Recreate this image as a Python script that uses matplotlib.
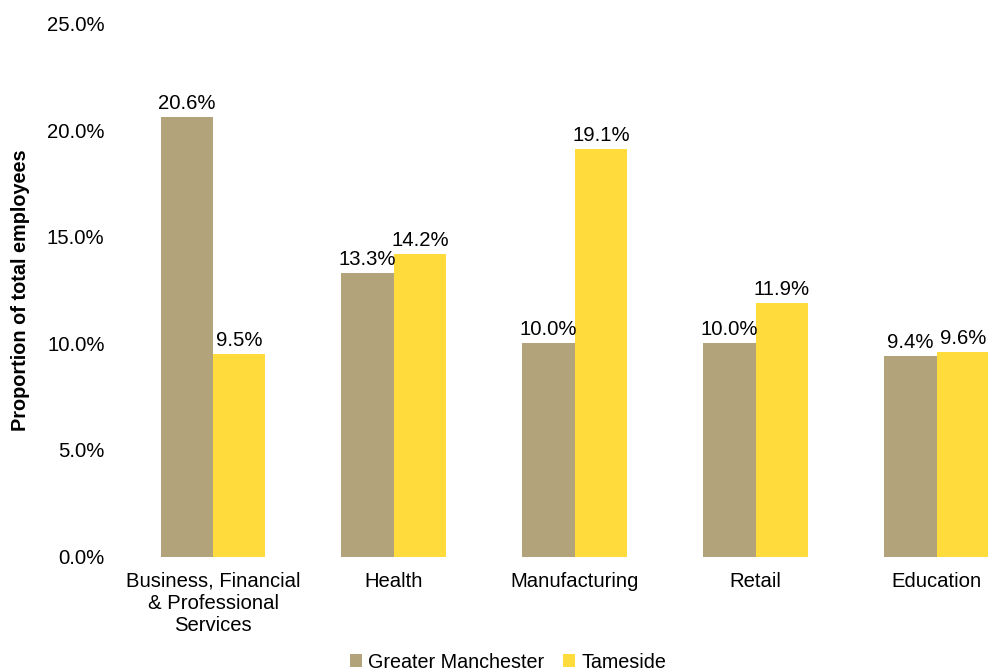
import matplotlib
matplotlib.use("Agg")
import matplotlib.pyplot as plt
import numpy as np

categories = ["Business, Financial\n& Professional\nServices", "Health", "Manufacturing", "Retail", "Education"]
greater_manchester = [20.6, 13.3, 10.0, 10.0, 9.4]
tameside = [9.5, 14.2, 19.1, 11.9, 9.6]
series_names = ["Greater Manchester", "Tameside"]
yticks = [0, 5, 10, 15, 20, 25]

plt.rcParams['font.family'] = ['Liberation Sans', 'DejaVu Sans']

W, H = 988, 670
fig = plt.figure(figsize=(W / 100, H / 100), dpi=100)
left = 122.6 / W
right = 1027.0 / W
bottom = (H - 556.5) / H
top = (H - 23.5) / H
ax = fig.add_axes([left, bottom, right - left, top - bottom])

FS = 14.6
x = np.arange(len(categories))
bw = 0.29
c_gm = "#B3A37A"
c_ts = "#FFDB3C"
b1 = ax.bar(x - bw / 2, greater_manchester, bw, color=c_gm, label=series_names[0])
b2 = ax.bar(x + bw / 2, tameside, bw, color=c_ts, label=series_names[1])

for bars, vals in ((b1, greater_manchester), (b2, tameside)):
    for r, v in zip(bars, vals):
        ax.annotate(f"{v:.1f}%", (r.get_x() + r.get_width() / 2, v), xytext=(0, 3),
                    textcoords="offset points", ha="center", va="bottom", fontsize=FS)

ax.set_xlim(-0.5, len(categories) - 0.5)
ax.set_ylim(0, 25)
ax.set_yticks(yticks)
ax.set_yticklabels([f"{t:.1f}%" for t in yticks], fontsize=FS)
ax.set_xticks(x)
ax.set_xticklabels(categories, fontsize=FS, linespacing=1.22)
ax.tick_params(axis="x", length=0, pad=11)
ax.tick_params(axis="y", length=0, pad=13)
for s in ax.spines.values():
    s.set_visible(False)
ax.set_ylabel("Proportion of total employees", fontsize=14.3, fontweight="bold", labelpad=12)

fig.legend(handles=[b1, b2], labels=series_names, loc="center", bbox_to_anchor=(508 / W, 1 - 662 / H),
           ncol=2, frameon=False, fontsize=14.2, handlelength=0.6, handleheight=0.6,
           handletextpad=0.3, columnspacing=1.0)

fig.savefig("out.png", dpi=100)
